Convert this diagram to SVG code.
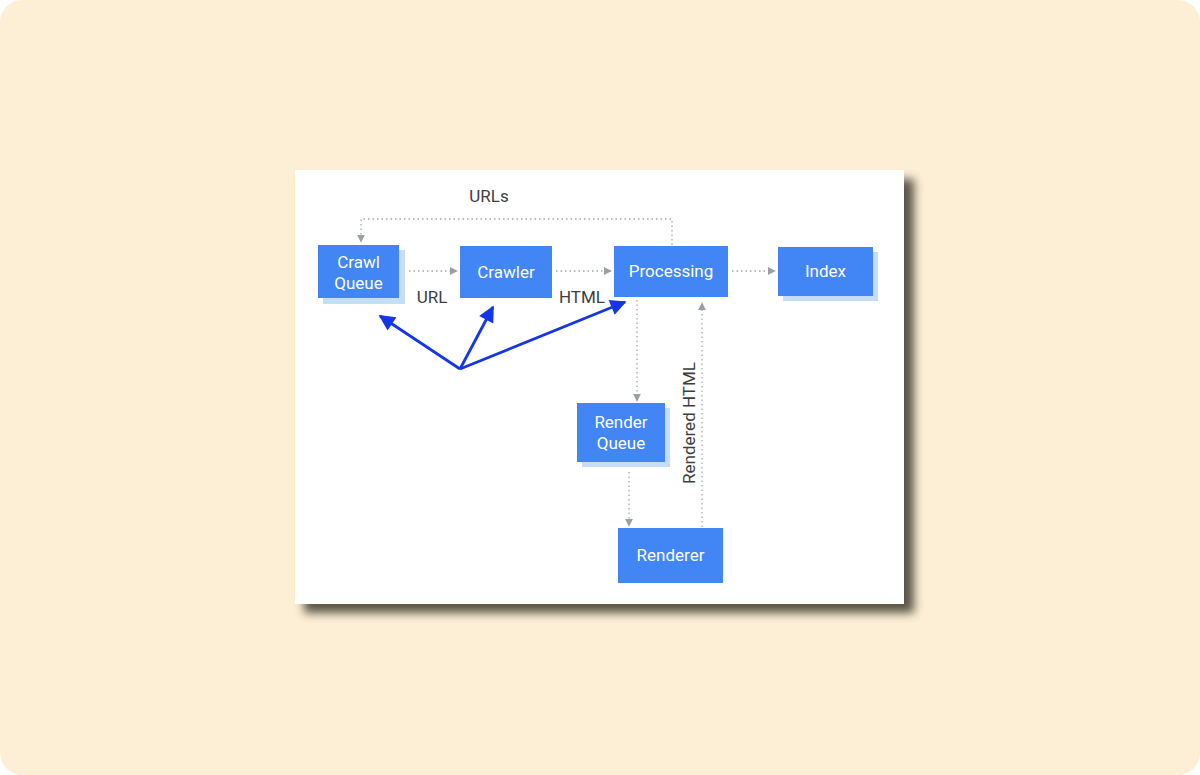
<svg xmlns="http://www.w3.org/2000/svg" width="1200" height="775" viewBox="0 0 1200 775">
<defs>
<style>
.box{fill:#4285f4}
.bsh{fill:#c9dcf7}
.bt{font-family:Roboto,"Liberation Sans",sans-serif;font-size:17px;fill:#ffffff;text-anchor:middle}
.lb{font-family:Roboto,"Liberation Sans",sans-serif;font-size:17px;fill:#3c4043;text-anchor:middle}
.dot{fill:none;stroke:#a3a8ad;stroke-width:1.3;stroke-dasharray:1.5 3}
.blue{fill:none;stroke:#1536e6;stroke-width:2.8}
</style>
<marker id="ga" viewBox="0 0 10 10" refX="9" refY="5" markerWidth="8" markerHeight="8" markerUnits="userSpaceOnUse" orient="auto">
<path d="M0,0 L10,5 L0,10 z" fill="#9aa0a6"/>
</marker>
<marker id="ba" viewBox="0 0 10 10" refX="9" refY="5" markerWidth="20" markerHeight="16" markerUnits="userSpaceOnUse" orient="auto">
<path d="M0,0 L10,5 L0,10 z" fill="#1536e6"/>
</marker>
<filter id="cs" x="-10%" y="-10%" width="130%" height="130%">
<feGaussianBlur stdDeviation="5"/>
</filter>
</defs>
<rect x="0" y="0" width="1200" height="775" fill="#ffffff"/>
<rect x="0" y="0" width="1200" height="775" rx="22" fill="#fdefd6"/>
<rect x="304" y="179" width="610" height="434" fill="#4a4438" opacity="0.9" filter="url(#cs)"/>
<rect x="295" y="170" width="609" height="434" fill="#ffffff"/>

<g id="connectors">
<polyline class="dot" points="672,245 672,219 361,219 361,242" marker-end="url(#ga)"/>
<line class="dot" x1="409" y1="271" x2="457" y2="271" marker-end="url(#ga)"/>
<line class="dot" x1="556" y1="271" x2="611" y2="271" marker-end="url(#ga)"/>
<line class="dot" x1="732" y1="271" x2="775" y2="271" marker-end="url(#ga)"/>
<line class="dot" x1="637" y1="300" x2="637" y2="401" marker-end="url(#ga)"/>
<line class="dot" x1="629" y1="472" x2="629" y2="526" marker-end="url(#ga)"/>
<line class="dot" x1="702" y1="527" x2="702" y2="303" marker-end="url(#ga)"/>
<line class="blue" x1="460" y1="369" x2="380" y2="316" marker-end="url(#ba)"/>
<line class="blue" x1="460" y1="369" x2="493" y2="307" marker-end="url(#ba)"/>
<line class="blue" x1="460" y1="369" x2="625" y2="302" marker-end="url(#ba)"/>
<text class="lb" x="489" y="202">URLs</text>
<text class="lb" x="432" y="303">URL</text>
<text class="lb" x="582" y="303">HTML</text>
<text class="lb" transform="translate(695,423) rotate(-90)">Rendered HTML</text>
</g>

<g id="crawl-queue">
<rect class="bsh" x="323" y="250" width="82" height="54"/>
<rect class="box" x="318" y="245" width="81" height="53"/>
<text class="bt" x="358.5" y="268">Crawl</text>
<text class="bt" x="358.5" y="289">Queue</text>
</g>
<g id="crawler">
<rect class="box" x="460" y="246" width="92" height="52"/>
<text class="bt" x="506" y="278">Crawler</text>
</g>
<g id="processing">
<rect class="box" x="614" y="246" width="114" height="51"/>
<text class="bt" x="671" y="277">Processing</text>
</g>
<g id="index">
<rect class="bsh" x="783" y="252" width="95" height="49"/>
<rect class="box" x="778" y="247" width="95" height="49"/>
<text class="bt" x="825.5" y="277">Index</text>
</g>
<g id="render-queue">
<rect class="bsh" x="582" y="408" width="88" height="59"/>
<rect class="box" x="577" y="403" width="88" height="59"/>
<text class="bt" x="621" y="428">Render</text>
<text class="bt" x="621" y="449">Queue</text>
</g>
<g id="renderer">
<rect class="box" x="618" y="528" width="105" height="55"/>
<text class="bt" x="670.5" y="561">Renderer</text>
</g>
</svg>
